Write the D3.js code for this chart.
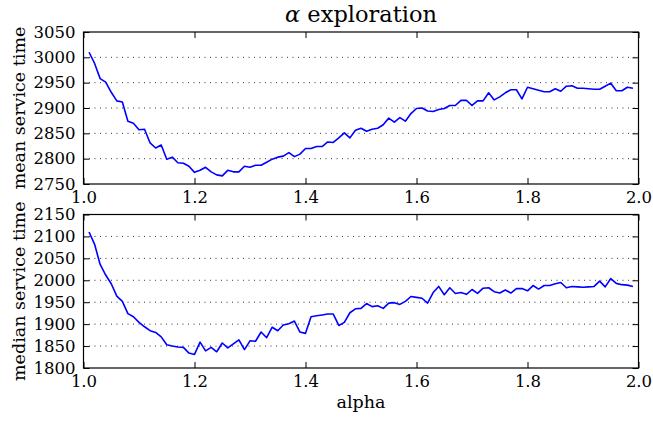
<!DOCTYPE html>
<html>
<head>
<meta charset="utf-8">
<script src="https://cdn.jsdelivr.net/npm/d3@7"></script>
<style>
  body { margin: 0; background: #fff; }
  text { font-family: "DejaVu Serif", serif; fill: #000; }
</style>
</head>
<body>
<script>
var svgWidth = 653;
var svgHeight = 423;

// alpha values on the x axis
var alpha = [
    1.01, 1.02, 1.03, 1.04, 1.05, 1.06, 1.07, 1.08, 1.09, 1.10,
    1.11, 1.12, 1.13, 1.14, 1.15, 1.16, 1.17, 1.18, 1.19, 1.20,
    1.21, 1.22, 1.23, 1.24, 1.25, 1.26, 1.27, 1.28, 1.29, 1.30,
    1.31, 1.32, 1.33, 1.34, 1.35, 1.36, 1.37, 1.38, 1.39, 1.40,
    1.41, 1.42, 1.43, 1.44, 1.45, 1.46, 1.47, 1.48, 1.49, 1.50,
    1.51, 1.52, 1.53, 1.54, 1.55, 1.56, 1.57, 1.58, 1.59, 1.60,
    1.61, 1.62, 1.63, 1.64, 1.65, 1.66, 1.67, 1.68, 1.69, 1.70,
    1.71, 1.72, 1.73, 1.74, 1.75, 1.76, 1.77, 1.78, 1.79, 1.80,
    1.81, 1.82, 1.83, 1.84, 1.85, 1.86, 1.87, 1.88, 1.89, 1.90,
    1.91, 1.92, 1.93, 1.94, 1.95, 1.96, 1.97, 1.98, 1.99
];

var meanTime = [
    3010, 2988, 2958, 2951, 2931, 2914, 2912, 2874, 2870, 2857,
    2858, 2831, 2821, 2827, 2799, 2803, 2792, 2791, 2785, 2773,
    2777, 2783, 2774, 2768, 2766, 2777, 2774, 2774, 2785, 2783,
    2787, 2787, 2793, 2799, 2803, 2805, 2812, 2804, 2809, 2820,
    2820, 2824, 2824, 2833, 2832, 2841, 2851, 2841, 2856, 2860,
    2854, 2858, 2860, 2867, 2880, 2872, 2881, 2874, 2889, 2899,
    2900, 2894, 2893, 2897, 2899, 2905, 2905, 2915, 2915, 2905,
    2914, 2914, 2930, 2916, 2922, 2930, 2936, 2936, 2918, 2941,
    2938, 2935, 2932, 2932, 2938, 2933, 2943, 2944, 2939, 2939,
    2938, 2937, 2937, 2943, 2949, 2934, 2934, 2941, 2939
];

var medianTime = [
    2110, 2082, 2036, 2012, 1992, 1964, 1952, 1924, 1917, 1904,
    1894, 1885, 1881, 1871, 1853, 1850, 1848, 1847, 1834, 1831,
    1859, 1839, 1847, 1837, 1857, 1846, 1855, 1864, 1842, 1862,
    1861, 1882, 1869, 1893, 1885, 1898, 1901, 1907, 1882, 1879,
    1917, 1919, 1921, 1923, 1923, 1897, 1904, 1926, 1935, 1936,
    1947, 1940, 1942, 1936, 1948, 1949, 1945, 1952, 1963, 1961,
    1959, 1948, 1972, 1986, 1967, 1983, 1970, 1972, 1968, 1979,
    1970, 1982, 1983, 1974, 1971, 1978, 1971, 1981, 1981, 1976,
    1988, 1980, 1988, 1988, 1992, 1995, 1983, 1986, 1985, 1984,
    1985, 1986, 1998, 1985, 2004, 1993, 1990, 1989, 1986
];

// tick labels
var xTicks = [1.0, 1.2, 1.4, 1.6, 1.8, 2.0];
var meanTicks = [2750, 2800, 2850, 2900, 2950, 3000, 3050];
var medianTicks = [1800, 1850, 1900, 1950, 2000, 2050, 2100, 2150];

var svg = d3.select("body").append("svg")
    .attr("width", svgWidth)
    .attr("height", svgHeight);

svg.append("rect").attr("width", svgWidth).attr("height", svgHeight).attr("fill", "#fff");

var left = 83.5, right = 638.5;

var x = d3.scaleLinear().domain([1.0, 2.0]).range([left, right]);

// title, alpha in math italic
var title = svg.append("text")
    .attr("x", (left + right) / 2)
    .attr("y", 22)
    .attr("text-anchor", "middle")
    .style("font-size", "22.5px");
title.append("tspan").style("font-style", "italic").text("\u03b1");
title.append("tspan").text(" exploration");

function drawPanel(values, ticks, top, bottom, label)
{
    var y = d3.scaleLinear().domain([ticks[0], ticks[ticks.length - 1]]).range([bottom, top]);
    var g = svg.append("g");

    // dotted horizontal grid
    g.selectAll(".grid").data(ticks.slice(1, -1)).join("line")
        .attr("class", "grid")
        .attr("x1", left).attr("x2", right)
        .attr("y1", function(d) { return y(d); })
        .attr("y2", function(d) { return y(d); })
        .attr("stroke", "#000")
        .attr("stroke-width", 0.8)
        .attr("stroke-dasharray", "1,4.5");

    // series line
    var line = d3.line()
        .x(function(d, i) { return x(alpha[i]); })
        .y(function(d) { return y(d); });

    g.append("path")
        .datum(values)
        .attr("d", line)
        .attr("fill", "none")
        .attr("stroke", "#0000ff")
        .attr("stroke-width", 1.6)
        .attr("stroke-linejoin", "round");

    // axes with inward ticks
    var bottomAxis = d3.axisBottom(x).tickValues(xTicks).tickSize(-6).tickPadding(7)
        .tickFormat(d3.format(".1f"));
    var topAxis = d3.axisTop(x).tickValues(xTicks).tickSize(-6).tickFormat("");
    var leftAxis = d3.axisLeft(y).tickValues(ticks).tickSize(-6).tickPadding(8)
        .tickFormat(d3.format("d"));
    var rightAxis = d3.axisRight(y).tickValues(ticks).tickSize(-6).tickFormat("");

    var axes = [
        g.append("g").attr("transform", "translate(0," + bottom + ")").call(bottomAxis),
        g.append("g").attr("transform", "translate(0," + top + ")").call(topAxis),
        g.append("g").attr("transform", "translate(" + left + ",0)").call(leftAxis),
        g.append("g").attr("transform", "translate(" + right + ",0)").call(rightAxis)
    ];
    axes.forEach(function(a) {
        a.select(".domain").remove();
        a.selectAll(".tick line").attr("stroke", "#000").attr("stroke-width", 1);
        a.selectAll("text").style("font-size", "16.5px").attr("font-family", null);
    });

    // frame
    g.append("rect")
        .attr("x", left).attr("y", top)
        .attr("width", right - left).attr("height", bottom - top)
        .attr("fill", "none")
        .attr("stroke", "#000")
        .attr("stroke-width", 1.2);

    // y label
    g.append("text")
        .attr("transform", "translate(25," + ((top + bottom) / 2) + ") rotate(-90)")
        .attr("text-anchor", "middle")
        .style("font-size", "17.5px")
        .text(label);
}

drawPanel(meanTime, meanTicks, 32, 184, "mean service time");
drawPanel(medianTime, medianTicks, 214.5, 368, "median service time");

svg.append("text")
    .attr("x", (left + right) / 2)
    .attr("y", 408)
    .attr("text-anchor", "middle")
    .style("font-size", "17.5px")
    .text("alpha");
</script>
</body>
</html>
